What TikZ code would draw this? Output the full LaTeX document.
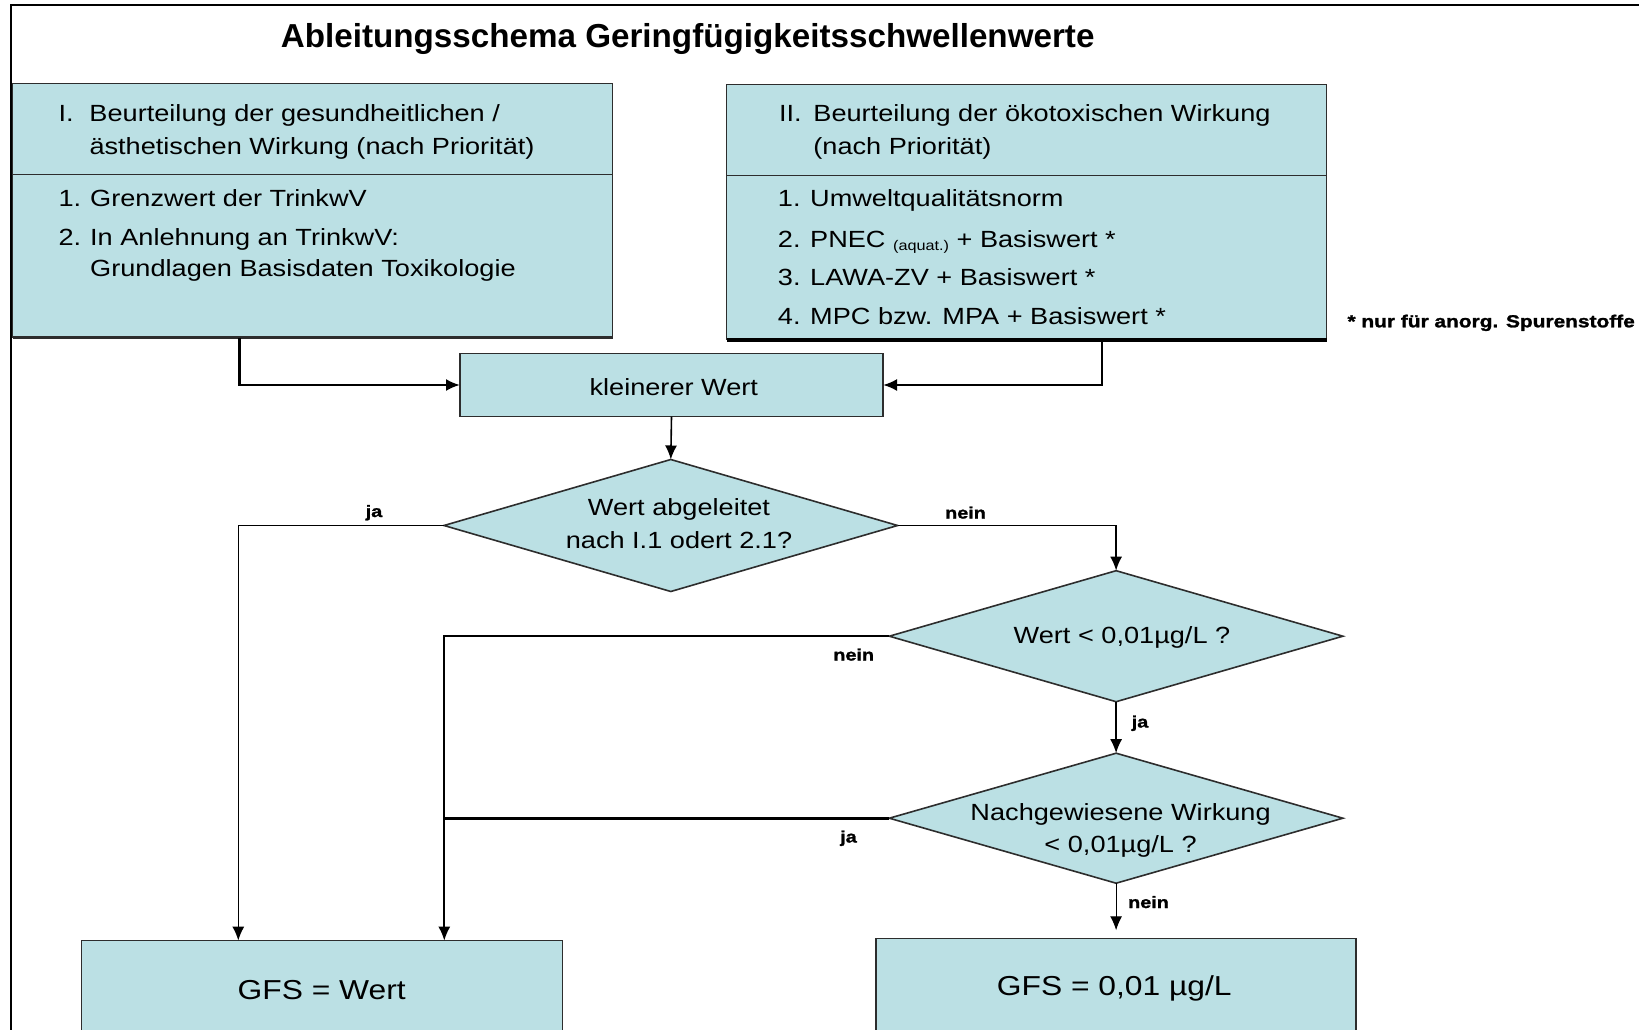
\documentclass[tikz,border=0pt]{standalone}
\usepackage{fontspec}
\setmainfont{Liberation Sans}[FakeStretch=1.16]
\newfontfamily\titlefont{Liberation Sans}
\newfontfamily\heavyfont{Liberation Sans}[FakeStretch=1.2, BoldFeatures={FakeBold=1.5}]
\usetikzlibrary{arrows.meta,shapes.geometric}
\definecolor{panelfill}{RGB}{187,224,228}
\definecolor{edge}{RGB}{45,45,45}

\begin{document}
\begin{tikzpicture}[x=1pt,y=-1pt,
  panel/.style={draw=edge, line width=1.4pt, fill=panelfill, rectangle, inner sep=0pt, outer sep=0pt},
  decision/.style={draw=edge, line width=1.6pt, fill=panelfill, diamond, inner sep=0pt, outer sep=0pt},
  body/.style={font=\fontsize{23.4}{30}\selectfont, inner sep=0pt, anchor=base west},
  ctext/.style={font=\fontsize{23.4}{30}\selectfont, inner sep=0pt, anchor=base},
  big/.style={font=\fontsize{27.4}{32}\selectfont, inner sep=0pt, anchor=base},
  tag/.style={font=\heavyfont\bfseries\fontsize{16.5}{20}\selectfont, inner sep=0pt, anchor=base},
  conn/.style={draw=black, line width=2pt},
  flow/.style={conn, -{Latex[length=14pt,width=12pt]}},
]
\useasboundingbox (0,0) rectangle (1639,1030);
\clip (0,0) rectangle (1639,1030);

% outer frame
\draw[line width=2pt] (10.5,1040) -- (10.5,5.3) -- (1645,5.3);

% title
\node[font=\titlefont\bfseries\fontsize{33.2}{38}\selectfont, inner sep=0pt, anchor=base west] (title)
  at (280.7,47.5) {Ableitungsschema Geringfügigkeitsschwellenwerte};

% panel I
\node[panel, minimum width=600pt, minimum height=254pt] (boxI) at (312.5,210.6) {};
\draw[edge, line width=1.4pt] (boxI.west |- 0,174.6) coordinate (divIa) -- (boxI.east |- divIa);
\draw[edge, line width=2.6pt] (boxI.south west) -- (boxI.south east);
\node[body] (hIa) at (58.3,121.7) {\makebox[31pt][l]{I.}Beurteilung der gesundheitlichen /};
\node[body] (hIb) at (89.3,154.3) {ästhetischen Wirkung (nach Priorität)};
\node[body] (iIa) at (58.3,206.7) {\makebox[31.7pt][l]{1.}Grenzwert der TrinkwV};
\node[body] (iIb) at (58.3,245.7) {\makebox[31.7pt][l]{2.}In Anlehnung an TrinkwV:};
\node[body] (iIc) at (90,276.7) {Grundlagen Basisdaten Toxikologie};

% panel II
\node[panel, minimum width=600pt, minimum height=255pt] (boxII) at (1026.5,212.2) {};
\draw[edge, line width=1.4pt] (boxII.west |- 0,175.6) coordinate (divIIa) -- (boxII.east |- divIIa);
\draw[black, line width=3.6pt] (boxII.south west) -- (boxII.south east);
\node[body] (hIIa) at (778.8,121.5) {\makebox[34.4pt][l]{II.}Beurteilung der ökotoxischen Wirkung};
\node[body] (hIIb) at (813.2,154) {(nach Priorität)};
\node[body] (iIIa) at (777.7,207) {\makebox[32.3pt][l]{1.}Umweltqualitätsnorm};
\node[body] (iIIb) at (777.7,247) {\makebox[32.3pt][l]{2.}PNEC \raisebox{-3pt}{\fontsize{14}{14}\selectfont(aquat.)} + Basiswert *};
\node[body] (iIIc) at (777.7,285.5) {\makebox[32.3pt][l]{3.}LAWA-ZV + Basiswert *};
\node[body] (iIId) at (777.7,324) {\makebox[32.3pt][l]{4.}MPC bzw. MPA + Basiswert *};

% footnote
\node[font=\heavyfont\bfseries\fontsize{17.4}{20}\selectfont, inner sep=0pt, anchor=base west] (note)
  at (1347.3,327.3) {* nur für anorg. Spurenstoffe};

% smaller value
\node[panel, minimum width=423pt, minimum height=63.4pt] (klein) at (671.5,385) {};
\node[ctext] (kleinT) at (673.8,395) {kleinerer Wert};

% decisions
\node[decision, minimum width=453.6pt, minimum height=132pt] (d1) at (670.8,525.5) {};
\node[ctext] (d1a) at (679,515) {Wert abgeleitet};
\node[ctext] (d1b) at (679,548) {nach I.1 odert 2.1?};

\node[decision, minimum width=453.6pt, minimum height=131pt] (d2) at (1116.1,636.2) {};
\node[ctext] (d2a) at (1122,643.5) {Wert < 0,01µg/L ?};

\node[decision, minimum width=453.6pt, minimum height=130pt] (d3) at (1116.1,818.2) {};
\node[ctext] (d3a) at (1120.6,820.5) {Nachgewiesene Wirkung};
\node[ctext] (d3b) at (1120.6,852.5) {< 0,01µg/L ?};

% results
\node[panel, minimum width=481pt, minimum height=100pt] (gfsA) at (322,990.7) {};
\node[big] (gfsAT) at (321.7,999) {GFS = Wert};
\node[panel, minimum width=480pt, minimum height=102pt] (gfsB) at (1115.9,989.3) {};
\node[big] (gfsBT) at (1114.3,995) {GFS = 0,01 µg/L};

% routing columns
\coordinate (colI) at (239.4,0);
\coordinate (colII) at (1101.7,0);
\coordinate (colA) at (238.3,0);
\coordinate (colB) at (444.3,0);

% connectors
\draw[flow, line width=2.2pt] (boxI.south -| colI) |- (klein.west);
\draw[flow, line width=2.2pt] (boxII.south -| colII) |- (klein.east);
\draw[flow, line width=1.6pt] (klein.south) -- (d1.north);
\draw[flow, line width=1.6pt] (d1.west) -| (gfsA.north -| colA);
\draw[flow, line width=1.8pt] (d1.east) -| (d2.north);
\draw[flow, line width=1.8pt] (d2.west) -| (gfsA.north -| colB);
\draw[flow, line width=1.6pt] (d2.south) -- (d3.north);
\draw[conn, line width=2.6pt] (d3.west) -- (d3.west -| colB);
\draw[flow, line width=1.2pt, shorten >=8pt] (d3.south) -- (gfsB.north -| d3.south);

% branch labels
\node[tag] (ja1) at (374,517) {ja};
\node[tag] (nein1) at (965.5,518.5) {nein};
\node[tag] (nein2) at (853.7,660.5) {nein};
\node[tag] (ja2) at (1140,727.5) {ja};
\node[tag] (ja3) at (848.5,842.5) {ja};
\node[tag] (nein3) at (1148.5,908) {nein};
\end{tikzpicture}
\end{document}
